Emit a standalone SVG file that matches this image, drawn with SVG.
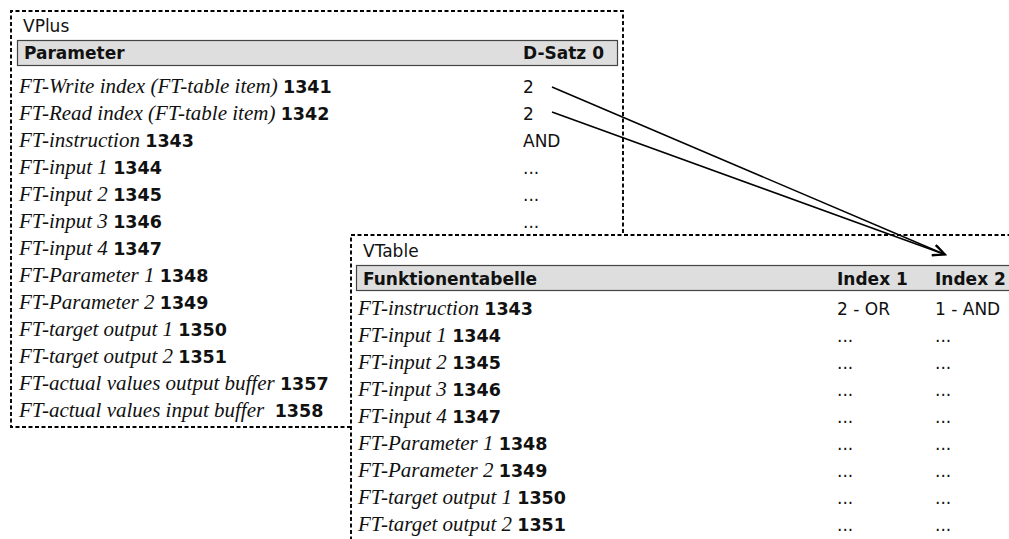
<svg xmlns="http://www.w3.org/2000/svg" width="1009" height="539" viewBox="0 0 1009 539">
<style>
.box{fill:#fff;stroke:#000;stroke-width:1.9;stroke-dasharray:4 2.5}
.bar{fill:#dedede;stroke:#444;stroke-width:1.2}
.t{font-family:"DejaVu Sans","Verdana",sans-serif;font-size:17px;fill:#111}
.h{font-family:"DejaVu Sans","Verdana",sans-serif;font-size:17px;font-weight:bold;fill:#111}
.it{font-family:"Liberation Serif","Times New Roman",serif;font-size:21px;font-style:italic;font-weight:normal;fill:#111}
.b{font-family:"DejaVu Sans","Verdana",sans-serif;font-size:17.5px;font-weight:bold;fill:#111}
.con{fill:none;stroke:#000;stroke-width:1.5}
</style>
<defs>
<marker id="arr" markerUnits="userSpaceOnUse" markerWidth="16" markerHeight="14" refX="13" refY="6" orient="auto">
<path d="M1,0.5 L13,6 L1,11.5" fill="none" stroke="#000" stroke-width="1.8"/>
</marker>
</defs>
<g id="vplus">
<path class="box" d="M351,427 L11,427 L11,11 L623,11 L623,235"/>
<text class="t" x="23" y="31.5">VPlus</text>
<rect class="bar" x="17.5" y="40.5" width="600" height="25"/>
<text class="h" x="24" y="59">Parameter</text>
<text class="h" x="523" y="59">D-Satz 0</text>
<text x="19" y="93"><tspan class="it">FT-Write index (FT-table item) </tspan><tspan class="b">1341</tspan></text>
<text x="19" y="120"><tspan class="it">FT-Read index (FT-table item) </tspan><tspan class="b">1342</tspan></text>
<text x="19" y="147"><tspan class="it">FT-instruction </tspan><tspan class="b">1343</tspan></text>
<text x="19" y="174"><tspan class="it">FT-input 1 </tspan><tspan class="b">1344</tspan></text>
<text x="19" y="201"><tspan class="it">FT-input 2 </tspan><tspan class="b">1345</tspan></text>
<text x="19" y="228"><tspan class="it">FT-input 3 </tspan><tspan class="b">1346</tspan></text>
<text x="19" y="255"><tspan class="it">FT-input 4 </tspan><tspan class="b">1347</tspan></text>
<text x="19" y="282"><tspan class="it">FT-Parameter 1 </tspan><tspan class="b">1348</tspan></text>
<text x="19" y="309"><tspan class="it">FT-Parameter 2 </tspan><tspan class="b">1349</tspan></text>
<text x="19" y="336"><tspan class="it">FT-target output 1 </tspan><tspan class="b">1350</tspan></text>
<text x="19" y="363"><tspan class="it">FT-target output 2 </tspan><tspan class="b">1351</tspan></text>
<text x="19" y="390"><tspan class="it">FT-actual values output buffer </tspan><tspan class="b">1357</tspan></text>
<text x="19" y="417" xml:space="preserve"><tspan class="it">FT-actual values input buffer  </tspan><tspan class="b">1358</tspan></text>
<text class="t" x="523" y="93">2</text>
<text class="t" x="523" y="120">2</text>
<text class="t" x="523" y="147">AND</text>
<text class="t" x="523" y="174">...</text>
<text class="t" x="523" y="201">...</text>
<text class="t" x="523" y="228">...</text>
</g>
<g id="vtable">
<rect class="box" x="351" y="235" width="700" height="340"/>
<text class="t" x="363" y="256.5">VTable</text>
<rect class="bar" x="356.5" y="265.5" width="700" height="25"/>
<text class="h" x="363" y="284.5">Funktionentabelle</text>
<text class="h" x="837" y="284.5">Index 1</text>
<text class="h" x="935" y="284.5">Index 2</text>
<text x="358" y="315"><tspan class="it">FT-instruction </tspan><tspan class="b">1343</tspan></text>
<text x="358" y="342"><tspan class="it">FT-input 1 </tspan><tspan class="b">1344</tspan></text>
<text x="358" y="369"><tspan class="it">FT-input 2 </tspan><tspan class="b">1345</tspan></text>
<text x="358" y="396"><tspan class="it">FT-input 3 </tspan><tspan class="b">1346</tspan></text>
<text x="358" y="423"><tspan class="it">FT-input 4 </tspan><tspan class="b">1347</tspan></text>
<text x="358" y="450"><tspan class="it">FT-Parameter 1 </tspan><tspan class="b">1348</tspan></text>
<text x="358" y="477"><tspan class="it">FT-Parameter 2 </tspan><tspan class="b">1349</tspan></text>
<text x="358" y="504"><tspan class="it">FT-target output 1 </tspan><tspan class="b">1350</tspan></text>
<text x="358" y="531"><tspan class="it">FT-target output 2 </tspan><tspan class="b">1351</tspan></text>
<text class="t" x="837" y="315">2 - OR</text>
<text class="t" x="935" y="315">1 - AND</text>
<text class="t" x="837" y="342">...</text><text class="t" x="935" y="342">...</text>
<text class="t" x="837" y="369">...</text><text class="t" x="935" y="369">...</text>
<text class="t" x="837" y="396">...</text><text class="t" x="935" y="396">...</text>
<text class="t" x="837" y="423">...</text><text class="t" x="935" y="423">...</text>
<text class="t" x="837" y="450">...</text><text class="t" x="935" y="450">...</text>
<text class="t" x="837" y="477">...</text><text class="t" x="935" y="477">...</text>
<text class="t" x="837" y="504">...</text><text class="t" x="935" y="504">...</text>
<text class="t" x="837" y="531">...</text><text class="t" x="935" y="531">...</text>
</g>
<g id="connectors">
<line class="con" x1="552" y1="87" x2="945" y2="254.5" marker-end="url(#arr)"/>
<line class="con" x1="552" y1="112" x2="945" y2="254.5" marker-end="url(#arr)"/>
</g>
</svg>
